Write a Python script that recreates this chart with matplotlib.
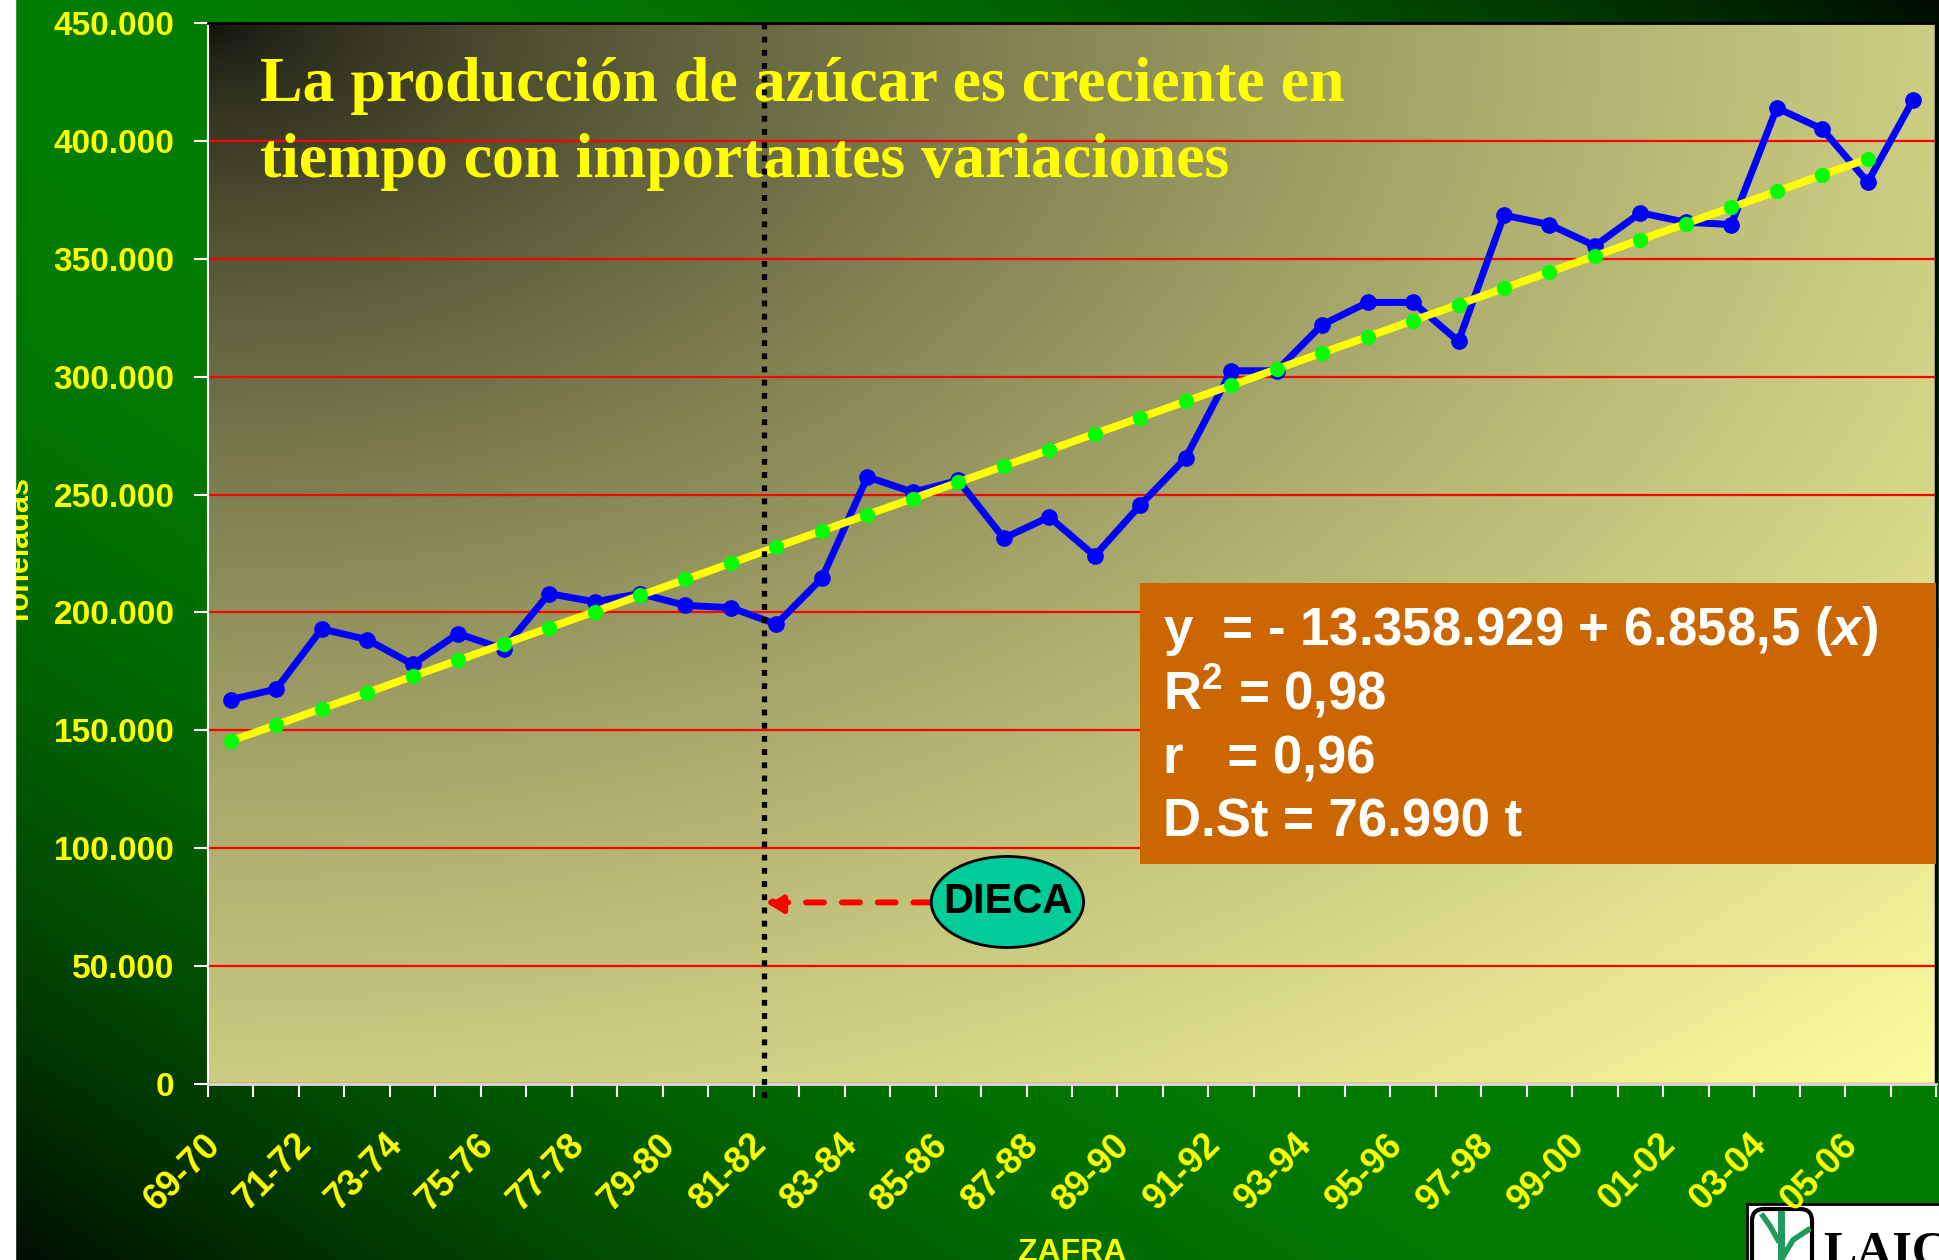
import numpy as np
import matplotlib
matplotlib.use('Agg')
import matplotlib.pyplot as plt
import matplotlib.transforms as mtransforms
from matplotlib.patches import Ellipse, Rectangle, FancyBboxPatch

plt.rcParams['font.family'] = 'Liberation Sans'
plt.rcParams['font.weight'] = 'bold'
plt.rcParams['mathtext.fontset'] = 'custom'
plt.rcParams['mathtext.rm'] = 'Liberation Sans:bold'
plt.rcParams['mathtext.it'] = 'Liberation Sans:italic:bold'

# zafras (campañas)
zafras = ['69-70', '70-71', '71-72', '72-73', '73-74', '74-75', '75-76', '76-77',
          '77-78', '78-79', '79-80', '80-81', '81-82', '82-83', '83-84', '84-85',
          '85-86', '86-87', '87-88', '88-89', '89-90', '90-91', '91-92', '92-93',
          '93-94', '94-95', '95-96', '96-97', '97-98', '98-99', '99-00', '00-01',
          '01-02', '02-03', '03-04', '04-05', '05-06', '06-07']

# produccion de azucar (t)
produccion = [163000, 167500, 193000, 188500, 178000, 191000, 184500, 208000,
              204500, 208000, 203000, 202000, 195000, 214500, 257500, 251000,
              256000, 231500, 240500, 224000, 245500, 265500, 302500, 302500,
              322000, 331500, 331500, 315000, 368500, 364500, 355500, 369500,
              365500, 364500, 414000, 405000, 382500, 417500]

# linea de tendencia (hasta 05-06)
tendencia = [145500, 152300, 159200, 166000, 172900, 179700, 186600, 193500,
             200300, 207200, 214000, 220900, 227800, 234600, 241500, 248300,
             255200, 262100, 268900, 275800, 282600, 289500, 296300, 303200,
             310100, 316900, 323800, 330600, 337500, 344400, 351200, 358100,
             364900, 371800, 378600, 385500, 392400]

y_ticks = [0, 50000, 100000, 150000, 200000, 250000, 300000, 350000, 400000, 450000]

titulo = ['La producción de azúcar es creciente en',
          'tiempo con importantes variaciones']
ecuacion = [r'y  = - 13.358.929 + 6.858,5 ($\mathit{x}$)',
            r'R$^{2}$ = 0,98',
            'r   = 0,96',
            'D.St = 76.990 t']

W, H = 1939, 1260
fig = plt.figure(figsize=(W / 100, H / 100), dpi=100)

# fondo verde
bg = fig.add_axes([0, 0, 1, 1])
bg.set_zorder(0)
uu, vv = np.meshgrid(np.linspace(0, 1, 388), np.linspace(0, 1, 252))
d = np.abs(uu - vv)
g = 125 * (1 - 0.9 * d ** 2.2)
green = np.zeros(uu.shape + (3,))
green[..., 1] = g / 255
bg.imshow(green, extent=(0, W, H, 0), aspect='auto', interpolation='bilinear')
bg.set_xlim(0, W)
bg.set_ylim(H, 0)
bg.axis('off')

bg.text(21, 552, 'Toneladas', rotation=90, ha='center', va='center',
        fontsize=22, color='yellow', fontweight='bold')
bg.text(1072, 1261, 'ZAFRA', ha='center', va='baseline', fontsize=23,
        color='yellow', fontweight='bold')
bg.add_patch(Rectangle((0, 0), 15, H, color='white', zorder=10))

# logo
bg.add_patch(Rectangle((1747, 1204), 200, 60, facecolor='white',
                       edgecolor='black', lw=2, zorder=5))
bg.add_patch(FancyBboxPatch((1752, 1209), 60, 70,
                            boxstyle='round,pad=0,rounding_size=12',
                            facecolor='white', edgecolor='black', lw=3, zorder=6))
bg.plot([1781, 1781], [1214, 1262], color='#1f9a5c', lw=5, zorder=7)
bg.plot([1763, 1770, 1778], [1216, 1226, 1240], color='#1f9a5c', lw=4, zorder=7)
bg.plot([1784, 1793, 1808], [1255, 1240, 1230], color='#1f9a5c', lw=4, zorder=7)
bg.text(1823, 1266, 'LAIC', ha='left', va='baseline', fontsize=36,
        fontfamily='Liberation Serif', fontweight='bold', color='black', zorder=7)

# area del grafico
ax = fig.add_axes([208 / W, (H - 1084) / H, 1728 / W, 1061 / H])
ax.set_zorder(2)
ax.patch.set_visible(False)

uu, vv = np.meshgrid(np.linspace(0, 1, 500), np.linspace(0, 1, 300))
s = (np.sqrt(uu ** 2 + vv ** 2) / np.sqrt(2)) ** 0.65
dark = np.array([15, 15, 10])
light = np.array([252, 252, 160])
grad = (dark + (light - dark) * s[..., None]) / 255
ax.imshow(grad, extent=(0, 1, 0, 1), transform=ax.transAxes, aspect='auto',
          interpolation='bilinear', zorder=0)

x = np.arange(len(zafras))
ax.plot(x, produccion, color='#0000ff', lw=5, marker='o', ms=11, zorder=3)
ax.plot(x[:len(tendencia)], tendencia, color='yellow', lw=5.5, marker='o',
        ms=10, mfc='#00ff00', mec='#00ff00', zorder=4)

ax.set_xlim(-0.5, len(zafras) - 0.5)
ax.set_ylim(0, 450000)

ax.set_axisbelow(True)
ax.yaxis.grid(True, color='red', lw=1.6)

ax.set_yticks(y_ticks)
ax.set_yticklabels([f'{v:,}'.replace(',', '.') for v in y_ticks])
ax.tick_params(axis='y', length=10, width=1.5, color='white', pad=14,
               labelsize=24, labelcolor='yellow')

ax.set_xticks(x[::2])
ax.set_xticklabels(zafras[::2], rotation=45, ha='right')
ax.set_xticks(np.arange(-0.5, len(zafras), 1), minor=True)
ax.tick_params(axis='x', which='major', length=0, pad=31, labelsize=26,
               labelcolor='yellow')
ax.tick_params(axis='x', which='minor', length=9, width=1.5, color='white')
off = mtransforms.ScaledTranslation(-0.03, 0, fig.dpi_scale_trans)
for lab in ax.get_xticklabels():
    lab.set_transform(lab.get_transform() + off)

ax.spines['left'].set_color('white')
ax.spines['left'].set_linewidth(1.5)
ax.spines['bottom'].set_color('#dddddd')
ax.spines['bottom'].set_linewidth(2)
ax.spines['top'].set_color('black')
ax.spines['top'].set_linewidth(2)
ax.spines['right'].set_color('black')
ax.spines['right'].set_linewidth(2.5)

# titulo
ax.text(0.030, 0.9265, titulo[0], transform=ax.transAxes, fontsize=46,
        fontfamily='Liberation Serif', fontweight='bold', color='yellow',
        va='baseline', zorder=5)
ax.text(0.030, 0.855, titulo[1], transform=ax.transAxes, fontsize=46,
        fontfamily='Liberation Serif', fontweight='bold', color='yellow',
        va='baseline', zorder=5)

# cuadro de la ecuacion
ax.add_patch(Rectangle((0.5394, 0.2074), 0.4606, 0.2648, transform=ax.transAxes,
                       facecolor='#cc6600', edgecolor='none', zorder=5))
for txt, yy in zip(ecuacion, [0.4138, 0.3525, 0.2931, 0.2328]):
    ax.text(0.5527, yy, txt, transform=ax.transAxes, fontsize=38, color='white',
            fontweight='bold', va='baseline', zorder=6)

# DIECA
trans = mtransforms.blended_transform_factory(ax.transData, ax.transAxes)
ax.plot([11.73, 11.73], [1, -0.013], transform=trans, color='black', lw=3.8,
        linestyle=(0, (1.1, 1.4)), clip_on=False, zorder=6)
ax.annotate('', xy=(11.76, 77000), xytext=(15.41, 77000),
            arrowprops=dict(arrowstyle='-|>,head_length=1.0,head_width=0.6',
                            color='red', lw=4.3, linestyle=(0, (3, 3)),
                            shrinkA=0, shrinkB=0), zorder=6)
ax.add_patch(Ellipse((17.08, 77200), width=3.35, height=38600,
                     facecolor='#00cc99', edgecolor='black', lw=2, zorder=7))
ax.text(17.08, 77200, 'DIECA', ha='center', va='center', fontsize=30,
        color='black', fontweight='bold', zorder=8)

fig.savefig('out.png', dpi=100)
